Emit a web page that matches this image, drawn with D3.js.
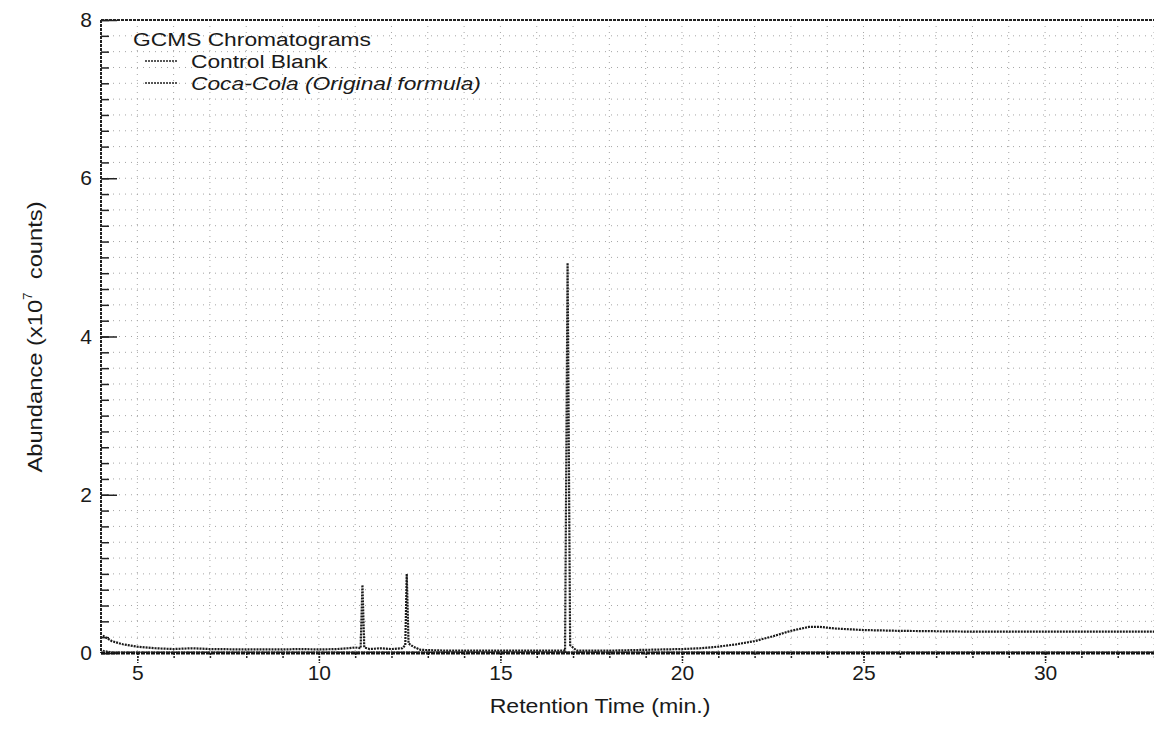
<!DOCTYPE html>
<html>
<head>
<meta charset="utf-8">
<script src="https://cdn.jsdelivr.net/npm/d3@7"></script>
<style>
  body { margin: 0; background: #fff; }
  text { font-family: "Liberation Sans", Arial, sans-serif; fill: #1a1a1a; }
</style>
</head>
<body>
<script>
const w = 1154;
const h = 747;
const margin = {top: 20, right: 0, bottom: 94, left: 101};

// axis ticks
const xMajor = [5, 10, 15, 20, 25, 30];
const xMinor = d3.range(5, 34, 1);
const yMajor = [0, 2, 4, 6, 8];
const yMinor = d3.range(0, 8.01, 0.2);

// Control Blank trace (min, x10^7 counts)
const blankTime  = [4.05, 4.3, 5.0, 8.0, 12.0, 16.0, 20.0, 25.0, 30.0, 33.0];
const blankAbund = [0.03, 0.01, 0.01, 0.01, 0.01, 0.01, 0.01, 0.01, 0.01, 0.01];

// Coca-Cola (Original formula) trace
const colaTime  = [4.05, 4.3, 4.6, 5.0, 5.5, 6.0, 6.5, 7.0, 8.0, 9.0, 9.5, 10.0, 10.5, 10.8, 11.0,
                   11.15, 11.2, 11.25, 11.4, 11.7, 12.0, 12.3, 12.38, 12.42, 12.47, 12.6, 12.8,
                   13.5, 15.0, 16.78, 16.85, 16.92, 17.1, 18.0, 19.0, 20.0, 20.5, 21.0, 21.5,
                   22.0, 22.5, 23.0, 23.5, 23.8, 24.2, 25.0, 26.0, 28.0, 30.0, 33.0];
const colaAbund = [0.22, 0.15, 0.11, 0.08, 0.06, 0.05, 0.06, 0.05, 0.045, 0.045, 0.05, 0.045, 0.05, 0.06, 0.07,
                   0.06, 0.86, 0.07, 0.05, 0.06, 0.05, 0.06, 0.10, 1.0, 0.12, 0.08, 0.04,
                   0.03, 0.03, 0.03, 4.93, 0.10, 0.03, 0.03, 0.04, 0.05, 0.06, 0.08, 0.11,
                   0.15, 0.21, 0.28, 0.33, 0.33, 0.31, 0.29, 0.28, 0.27, 0.27, 0.27];

const legendTitle = "GCMS Chromatograms";
const seriesNames = ["Control Blank", "Coca-Cola (Original formula)"];

const x = d3.scaleLinear().domain([4, 33]).range([margin.left, w - margin.right]);
const y = d3.scaleLinear().domain([0, 8]).range([h - margin.bottom, margin.top]);

const svg = d3.select("body")
  .append("svg")
  .attr("width", w)
  .attr("height", h);

// dotted grid
const grid = svg.append("g").attr("stroke", "#a5a5a5").attr("stroke-width", 1)
  .attr("stroke-dasharray", "1,5");
grid.selectAll(".vg")
  .data(xMinor)
  .enter().append("line")
  .attr("x1", d => x(d)).attr("x2", d => x(d))
  .attr("y1", y(8)).attr("y2", y(0));
grid.selectAll(".hg")
  .data(yMinor.filter(d => d > 0.01 && d < 7.99))
  .enter().append("line")
  .attr("x1", x(4)).attr("x2", x(33))
  .attr("y1", d => y(d)).attr("y2", d => y(d));

// top frame line
svg.append("line")
  .attr("x1", x(4)).attr("x2", x(33)).attr("y1", y(8)).attr("y2", y(8))
  .attr("stroke", "#222").attr("stroke-width", 2).attr("stroke-dasharray", "3,1");

// x axis: minor then major ticks
const xAxisMinor = d3.axisBottom(x).tickValues(xMinor).tickSize(6).tickFormat("");
const xAxisMajor = d3.axisBottom(x).tickValues(xMajor).tickSize(10).tickPadding(2);

const gxMinor = svg.append("g")
  .attr("transform", `translate(0,${y(0)})`)
  .call(xAxisMinor);
const gx = svg.append("g")
  .attr("transform", `translate(0,${y(0)})`)
  .call(xAxisMajor);
[gxMinor, gx].forEach(g => {
  g.select(".domain").remove();
  g.selectAll(".tick line").attr("stroke", "#222").attr("stroke-width", 1.5)
    .attr("stroke-dasharray", "2,1");
});
gx.selectAll(".tick text")
  .style("font-size", "21px")
  .attr("fill", "#1a1a1a");

// y axis: ticks drawn inward
const yAxisMinor = d3.axisLeft(y).tickValues(yMinor).tickSize(-8).tickFormat("");
const yAxisMajor = d3.axisLeft(y).tickValues(yMajor).tickSize(-16).tickPadding(9)
  .tickFormat(d3.format("d"));

const gyMinor = svg.append("g")
  .attr("transform", `translate(${x(4)},0)`)
  .call(yAxisMinor);
const gy = svg.append("g")
  .attr("transform", `translate(${x(4)},0)`)
  .call(yAxisMajor);
[gyMinor, gy].forEach(g => {
  g.select(".domain").remove();
  g.selectAll(".tick line").attr("stroke", "#222").attr("stroke-width", 1.5);
});
gy.selectAll(".tick text")
  .style("font-size", "21px")
  .attr("fill", "#1a1a1a")
  .attr("x", -9);

// left and bottom axis lines
svg.append("line")
  .attr("x1", x(4)).attr("x2", x(4)).attr("y1", y(8)).attr("y2", y(0))
  .attr("stroke", "#222").attr("stroke-width", 2).attr("stroke-dasharray", "3,1");
svg.append("line")
  .attr("x1", x(4)).attr("x2", x(33)).attr("y1", y(0)).attr("y2", y(0))
  .attr("stroke", "#111").attr("stroke-width", 3).attr("stroke-dasharray", "4,1");

// traces
const line = d3.line()
  .x(d => x(d[0]))
  .y(d => y(d[1]));

const blank = d3.zip(blankTime, blankAbund);
const cola = d3.zip(colaTime, colaAbund);

svg.append("path")
  .datum(blank)
  .attr("d", line)
  .attr("fill", "none")
  .attr("stroke", "#222")
  .attr("stroke-width", 1.6)
  .attr("stroke-dasharray", "2,1");

svg.append("path")
  .datum(cola)
  .attr("d", line)
  .attr("fill", "none")
  .attr("stroke", "#1a1a1a")
  .attr("stroke-width", 2.2)
  .attr("stroke-dasharray", "2,1");

// axis titles
svg.append("text")
  .attr("transform", "translate(600,713) scale(1.1,1)")
  .attr("text-anchor", "middle")
  .style("font-size", "21px")
  .text("Retention Time (min.)");

const yTitle = svg.append("text")
  .attr("transform", "translate(42,337) rotate(-90) scale(1.13,1)")
  .attr("text-anchor", "middle")
  .style("font-size", "21px");
yTitle.append("tspan").text("Abundance (x10");
yTitle.append("tspan").attr("dy", -10).style("font-size", "12px").text("7");
yTitle.append("tspan").attr("dy", 10).text("\u00a0 counts)");

// legend
const legend = svg.append("g").attr("id", "legend");
legend.append("text")
  .attr("transform", "translate(133,46) scale(1.2,1)")
  .style("font-size", "19px")
  .text(legendTitle);

const rows = legend.selectAll(".row")
  .data(seriesNames)
  .enter().append("g")
  .attr("transform", (d, i) => `translate(0,${[68, 90][i]})`);
rows.append("line")
  .attr("x1", 145).attr("x2", 178).attr("y1", -7).attr("y2", -7)
  .attr("stroke", "#222").attr("stroke-width", 1.4).attr("stroke-dasharray", "2,1");
rows.append("text")
  .attr("transform", "translate(191,0) scale(1.2,1)")
  .style("font-size", "19px")
  .style("font-style", (d, i) => i === 1 ? "italic" : "normal")
  .text(d => d);
</script>
</body>
</html>
